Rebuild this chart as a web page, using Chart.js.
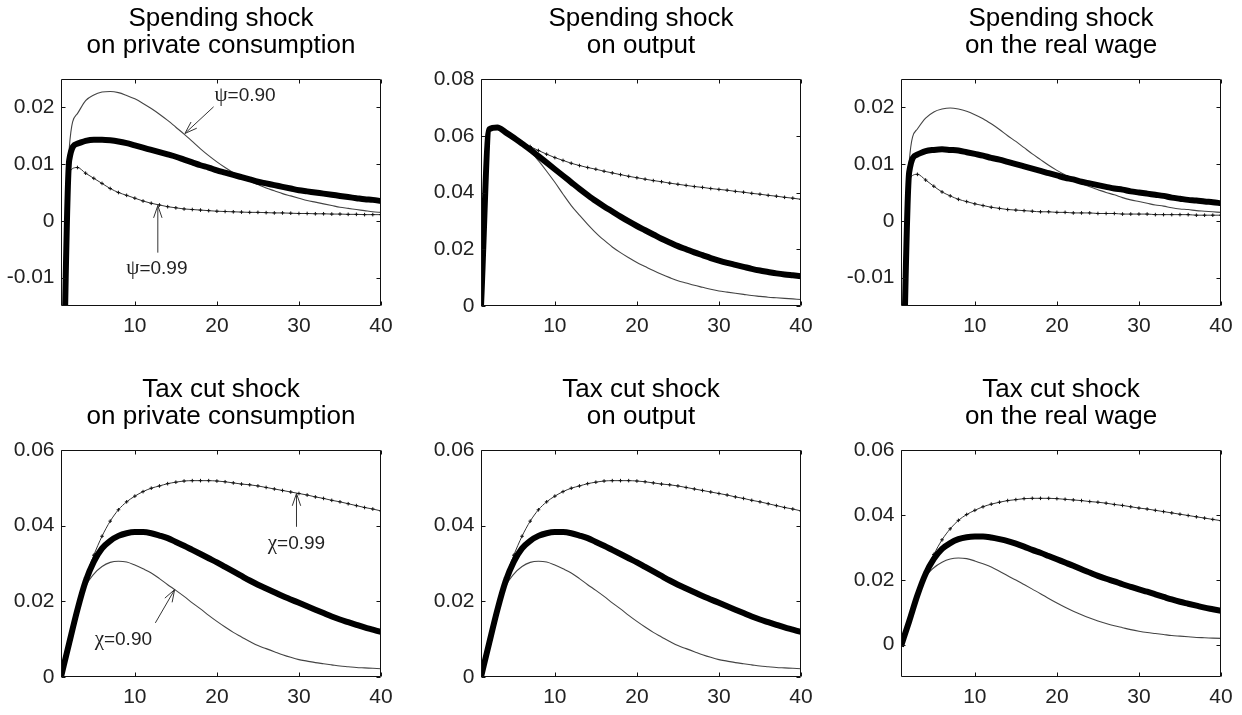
<!DOCTYPE html>
<html>
<head>
<meta charset="utf-8">
<script src="https://cdn.jsdelivr.net/npm/chart.js@4.4.1/dist/chart.umd.min.js"></script>
<style>
html,body{margin:0;padding:0;background:#fff;width:1242px;height:715px;overflow:hidden;position:relative}
canvas{position:absolute;display:block}
</style>
</head>
<body>
<canvas id="c0" width="396" height="340" style="left:0px;top:0px"></canvas>
<canvas id="c1" width="396" height="340" style="left:420px;top:0px"></canvas>
<canvas id="c2" width="396" height="340" style="left:840px;top:0px"></canvas>
<canvas id="c3" width="396" height="340" style="left:0px;top:371px"></canvas>
<canvas id="c4" width="396" height="340" style="left:420px;top:371px"></canvas>
<canvas id="c5" width="396" height="340" style="left:840px;top:371px"></canvas>
<script>
// ---------- DATA ----------
const periods = [1,2,3,4,5,6,7,8,9,10,11,12,13,14,15,16,17,18,19,20,21,22,23,24,25,26,27,28,29,30,31,32,33,34,35,36,37,38,39,40];
const xTickValues = [10,20,30,40];

// Spending shock on private consumption
const spendConsBase = [-0.055,0.0107,0.0136,0.0141,0.0143,0.0143,0.0142,0.0140,0.0137,0.0133,0.0129,0.0125,0.0121,0.0117,0.0113,0.0108,0.0103,0.0098,0.0094,0.0089,0.0085,0.0081,0.0077,0.0073,0.0069,0.0066,0.0063,0.0060,0.0057,0.0054,0.0052,0.0050,0.0048,0.0046,0.0044,0.0042,0.0040,0.0038,0.0037,0.0035];
const spendCons090 = [-0.055,0.0127,0.0189,0.0212,0.0222,0.0227,0.0228,0.0226,0.0221,0.0215,0.0207,0.0198,0.0188,0.0177,0.0165,0.0153,0.0140,0.0127,0.0115,0.0104,0.0094,0.0085,0.0077,0.0070,0.0064,0.0058,0.0053,0.0048,0.0044,0.0040,0.0036,0.0033,0.0030,0.0027,0.0024,0.0022,0.0020,0.0018,0.0016,0.0015];
const spendCons099 = [-0.055,0.0085,0.0094,0.0084,0.0075,0.0066,0.0057,0.0050,0.0045,0.0040,0.0035,0.0031,0.0028,0.0025,0.0023,0.0021,0.0020,0.0019,0.0018,0.0017,0.00165,0.0016,0.00155,0.0015,0.0015,0.00145,0.0014,0.0014,0.00135,0.0013,0.0013,0.00125,0.00125,0.0012,0.0012,0.00115,0.00115,0.0011,0.0011,0.0011];

// Spending shock on output
const spendOutBase = [0,0.0623,0.0629,0.0612,0.0593,0.0572,0.0551,0.0528,0.0505,0.0482,0.0459,0.0436,0.0413,0.0391,0.0370,0.0351,0.0333,0.0315,0.0298,0.0282,0.0267,0.0252,0.0237,0.0224,0.0211,0.0200,0.0189,0.0179,0.0169,0.0160,0.0152,0.0145,0.0138,0.0131,0.0125,0.0120,0.0115,0.0111,0.0108,0.0105];
const spendOut090 = [0,0.0623,0.0629,0.0611,0.0590,0.0569,0.0546,0.0512,0.0475,0.0436,0.0394,0.0354,0.0320,0.0288,0.0258,0.0232,0.0208,0.0188,0.0170,0.0153,0.0139,0.0125,0.0112,0.0100,0.0089,0.0081,0.0073,0.0066,0.0059,0.0053,0.0049,0.0045,0.0041,0.0037,0.0034,0.0031,0.0029,0.0027,0.0025,0.0023];
const spendOut099 = [0,0.0623,0.0629,0.0612,0.0593,0.0577,0.0562,0.0548,0.0535,0.0523,0.0513,0.0503,0.0495,0.0488,0.0482,0.0475,0.0469,0.0463,0.0457,0.0452,0.0447,0.0442,0.0438,0.0433,0.0429,0.0425,0.0421,0.0418,0.0414,0.0411,0.0408,0.0404,0.0401,0.0397,0.0394,0.0390,0.0387,0.0383,0.0380,0.0376];

// Spending shock on the real wage
const spendWageBase = [-0.048,0.0086,0.0117,0.0123,0.0125,0.0126,0.0125,0.0124,0.0121,0.0118,0.0115,0.0111,0.0108,0.0104,0.0100,0.0096,0.0092,0.0088,0.0084,0.0080,0.0076,0.0073,0.0069,0.0066,0.0063,0.0060,0.0057,0.0055,0.0052,0.0050,0.0048,0.0046,0.0044,0.0041,0.0039,0.0037,0.0036,0.0034,0.0033,0.0031];
const spendWage090 = [-0.048,0.0104,0.0162,0.0181,0.0192,0.0197,0.0199,0.0197,0.0193,0.0187,0.0180,0.0171,0.0161,0.0150,0.0140,0.0129,0.0118,0.0108,0.0098,0.0089,0.0081,0.0073,0.0066,0.0060,0.0055,0.0050,0.0046,0.0041,0.0037,0.0034,0.0031,0.0028,0.0026,0.0023,0.0021,0.0020,0.0018,0.0017,0.0016,0.0015];
const spendWage099 = [-0.048,0.0072,0.0082,0.0072,0.0061,0.0051,0.0044,0.0038,0.0034,0.0030,0.0027,0.0024,0.0022,0.0020,0.0019,0.0018,0.0017,0.0016,0.0016,0.0015,0.0015,0.0014,0.0014,0.0014,0.0013,0.0013,0.0013,0.0012,0.0012,0.0012,0.0012,0.0011,0.0011,0.0011,0.0011,0.0011,0.0010,0.0010,0.0010,0.0010];

// Tax cut shock on private consumption
const taxConsBase = [0,0.0090,0.0178,0.0253,0.0305,0.0340,0.0360,0.0373,0.0380,0.0383,0.0383,0.0380,0.0374,0.0367,0.0357,0.0347,0.0336,0.0325,0.0314,0.0303,0.0291,0.0279,0.0267,0.0255,0.0244,0.0234,0.0224,0.0214,0.0205,0.0196,0.0187,0.0178,0.0169,0.0160,0.0152,0.0145,0.0138,0.0131,0.0125,0.0119];
const taxCons090 = [0,0.0090,0.0176,0.0240,0.0272,0.0292,0.0303,0.0306,0.0304,0.0296,0.0286,0.0275,0.0260,0.0244,0.0229,0.0213,0.0196,0.0180,0.0163,0.0147,0.0132,0.0118,0.0106,0.0094,0.0083,0.0075,0.0067,0.0059,0.0052,0.0046,0.0042,0.0038,0.0035,0.0032,0.0029,0.0027,0.0025,0.0024,0.0023,0.0022];
const taxCons099 = [0,0.0090,0.0180,0.0262,0.0322,0.0372,0.0412,0.0442,0.0463,0.0478,0.0490,0.0499,0.0505,0.0511,0.0515,0.0518,0.0519,0.0519,0.0519,0.0518,0.0516,0.0513,0.0510,0.0508,0.0505,0.0501,0.0497,0.0493,0.0489,0.0485,0.0481,0.0476,0.0472,0.0467,0.0463,0.0458,0.0453,0.0448,0.0444,0.0439];

// Tax cut shock on output
const taxOutBase = [0,0.0090,0.0178,0.0253,0.0305,0.0340,0.0360,0.0373,0.0380,0.0383,0.0383,0.0380,0.0374,0.0367,0.0357,0.0347,0.0336,0.0325,0.0314,0.0303,0.0291,0.0279,0.0267,0.0255,0.0244,0.0234,0.0224,0.0214,0.0205,0.0196,0.0187,0.0178,0.0169,0.0160,0.0152,0.0145,0.0138,0.0131,0.0125,0.0119];
const taxOut090 = [0,0.0090,0.0176,0.0240,0.0272,0.0292,0.0303,0.0306,0.0304,0.0296,0.0286,0.0275,0.0260,0.0244,0.0229,0.0213,0.0196,0.0180,0.0163,0.0147,0.0132,0.0118,0.0106,0.0094,0.0083,0.0075,0.0067,0.0059,0.0052,0.0046,0.0042,0.0038,0.0035,0.0032,0.0029,0.0027,0.0025,0.0024,0.0023,0.0022];
const taxOut099 = [0,0.0090,0.0180,0.0262,0.0322,0.0372,0.0412,0.0442,0.0463,0.0478,0.0490,0.0499,0.0505,0.0511,0.0515,0.0518,0.0519,0.0519,0.0519,0.0518,0.0516,0.0513,0.0510,0.0508,0.0505,0.0501,0.0497,0.0493,0.0489,0.0485,0.0481,0.0476,0.0472,0.0467,0.0463,0.0458,0.0453,0.0448,0.0444,0.0439];

// Tax cut shock on the real wage
const taxWageBase = [-0.0005,0.0072,0.0152,0.0218,0.0264,0.0295,0.0313,0.0325,0.0331,0.0333,0.0333,0.0330,0.0325,0.0319,0.0311,0.0302,0.0292,0.0283,0.0273,0.0263,0.0253,0.0243,0.0232,0.0222,0.0212,0.0203,0.0195,0.0186,0.0178,0.0170,0.0163,0.0155,0.0147,0.0139,0.0132,0.0126,0.0120,0.0114,0.0109,0.0104];
const taxWage090 = [-0.0005,0.0072,0.0150,0.0209,0.0237,0.0254,0.0264,0.0267,0.0265,0.0258,0.0249,0.0239,0.0226,0.0212,0.0199,0.0185,0.0171,0.0157,0.0142,0.0128,0.0115,0.0103,0.0092,0.0082,0.0073,0.0065,0.0058,0.0052,0.0046,0.0041,0.0037,0.0034,0.0031,0.0028,0.0026,0.0024,0.0022,0.0021,0.0020,0.0019];
const taxWage099 = [-0.0005,0.0072,0.0155,0.0226,0.0278,0.0323,0.0357,0.0383,0.0401,0.0414,0.0425,0.0433,0.0439,0.0444,0.0447,0.0450,0.0451,0.0451,0.0451,0.0450,0.0448,0.0446,0.0444,0.0441,0.0439,0.0436,0.0432,0.0429,0.0425,0.0421,0.0418,0.0414,0.0410,0.0406,0.0402,0.0398,0.0394,0.0390,0.0386,0.0382];

// Y tick values
const yTicksSpendSmall = [-0.01,0,0.01,0.02];
const yTicksSpendOut = [0,0.02,0.04,0.06,0.08];
const yTicksTax = [0,0.02,0.04,0.06];

// ---------- RENDER ----------
const SANS = '"Liberation Sans", Arial, Helvetica, sans-serif';
const SERIF = '"Liberation Serif", "Times New Roman", serif';

function framePlugin() {
  return {
    id: 'frame',
    afterDatasetsDraw(chart) {
      const {ctx, chartArea: a, scales: {x, y}} = chart;
      const L = Math.round(a.left) + 0.5, R = Math.round(a.right) - 0.5;
      const T = Math.round(a.top) + 0.5, B = Math.round(a.bottom) - 0.5;
      ctx.save();
      ctx.strokeStyle = '#111';
      ctx.lineWidth = 1;
      ctx.beginPath();
      ctx.rect(L, T, R - L, B - T);
      const tl = 4;
      x.ticks.forEach(t => {
        const px = Math.round(x.getPixelForValue(t.value)) + 0.5;
        ctx.moveTo(px, B); ctx.lineTo(px, B - tl);
        ctx.moveTo(px, T); ctx.lineTo(px, T + tl);
      });
      y.ticks.forEach(t => {
        const py = Math.round(y.getPixelForValue(t.value)) + 0.5;
        ctx.moveTo(L, py); ctx.lineTo(L + tl, py);
        ctx.moveTo(R, py); ctx.lineTo(R - tl, py);
      });
      ctx.stroke();
      ctx.restore();
    }
  };
}

function notesPlugin(items) {
  return {
    id: 'notes',
    afterDraw(chart) {
      const {ctx, scales: {x, y}} = chart;
      ctx.save();
      items.forEach(n => {
        const tx = x.getPixelForValue(n.textX), ty = y.getPixelForValue(n.textY);
        ctx.fillStyle = '#222';
        ctx.textBaseline = 'middle';
        ctx.textAlign = 'left';
        ctx.font = '21px ' + SERIF;
        ctx.fillText(n.greek, tx, ty);
        const gw = ctx.measureText(n.greek).width;
        ctx.font = '19px ' + SANS;
        ctx.fillText(n.rest, tx + gw, ty);
        const x1 = x.getPixelForValue(n.fromX), y1 = y.getPixelForValue(n.fromY);
        const x2 = x.getPixelForValue(n.toX), y2 = y.getPixelForValue(n.toY);
        ctx.strokeStyle = '#333';
        ctx.lineWidth = 1;
        ctx.beginPath();
        ctx.moveTo(x1, y1); ctx.lineTo(x2, y2);
        const ang = Math.atan2(y2 - y1, x2 - x1);
        [-1, 1].forEach(s => {
          ctx.moveTo(x2, y2);
          ctx.lineTo(x2 - 13 * Math.cos(ang + s * 0.33), y2 - 13 * Math.sin(ang + s * 0.33));
        });
        ctx.stroke();
      });
      ctx.restore();
    }
  };
}

function makeChart(id, title, base, low, high, yMin, yMax, yTicks, notes) {
  return new Chart(document.getElementById(id), {
    type: 'line',
    data: {
      labels: periods,
      datasets: [
        {data: base, borderColor: '#000', borderWidth: 6, pointRadius: 0, borderJoinStyle: 'round',
         cubicInterpolationMode: 'monotone', clip: 0, order: 0},
        {data: high, borderColor: '#333', borderWidth: 1, pointRadius: 1.8, pointStyle: 'cross',
         pointBorderColor: '#111', pointBorderWidth: 1, cubicInterpolationMode: 'monotone', clip: 0, order: 1},
        {data: low, borderColor: '#444', borderWidth: 1.1, pointRadius: 0,
         cubicInterpolationMode: 'monotone', clip: 0, order: 2}
      ]
    },
    options: {
      responsive: false,
      animation: false,
      events: [],
      layout: {padding: {top: 0, left: 0, right: 15, bottom: 0}},
      plugins: {
        legend: {display: false},
        tooltip: {enabled: false},
        title: {
          display: true, text: title, fullSize: false, color: '#000',
          font: {family: SANS, size: 26, weight: 'normal', lineHeight: 1.05},
          padding: {top: 5.2, bottom: 19.2}
        }
      },
      scales: {
        x: {
          type: 'linear', min: 1, max: 40,
          grid: {display: false, drawTicks: false},
          border: {display: false},
          afterBuildTicks: s => { s.ticks = xTickValues.map(v => ({value: v})); },
          ticks: {color: '#222', padding: 8, font: {family: SANS, size: 21}, maxRotation: 0, autoSkip: false,
                  callback: v => String(v)},
          afterFit: s => { s.height = 34; s.paddingLeft = 0; s.paddingRight = 0; }
        },
        y: {
          type: 'linear', min: yMin, max: yMax,
          grid: {display: false, drawTicks: false},
          border: {display: false},
          afterBuildTicks: s => { s.ticks = yTicks.map(v => ({value: v})); },
          ticks: {color: '#222', padding: 6.5, font: {family: SANS, size: 21}, autoSkip: false,
                  callback: v => String(v)},
          afterFit: s => { s.width = 61; s.paddingTop = 0; s.paddingBottom = 0; }
        }
      }
    },
    plugins: [framePlugin(), notesPlugin(notes)]
  });
}

makeChart('c0', ['Spending shock', 'on private consumption'], spendConsBase, spendCons090, spendCons099,
  -0.015, 0.025, yTicksSpendSmall, [
    {greek: 'ψ', rest: '=0.90', textX: 19.7, textY: 0.0221, fromX: 19.6, fromY: 0.0201, toX: 16.1, toY: 0.0154},
    {greek: 'ψ', rest: '=0.99', textX: 8.95, textY: -0.0084, fromX: 12.8, fromY: -0.0056, toX: 12.8, toY: 0.0027}
  ]);
makeChart('c1', ['Spending shock', 'on output'], spendOutBase, spendOut090, spendOut099,
  0, 0.08, yTicksSpendOut, []);
makeChart('c2', ['Spending shock', 'on the real wage'], spendWageBase, spendWage090, spendWage099,
  -0.015, 0.025, yTicksSpendSmall, []);
makeChart('c3', ['Tax cut shock', 'on private consumption'], taxConsBase, taxCons090, taxCons099,
  0, 0.06, yTicksTax, [
    {greek: 'χ', rest: '=0.99', textX: 26.2, textY: 0.0353, fromX: 29.7, fromY: 0.0397, toX: 29.7, toY: 0.0485},
    {greek: 'χ', rest: '=0.90', textX: 5.1, textY: 0.0099, fromX: 12.5, fromY: 0.0143, toX: 14.85, toY: 0.0231}
  ]);
makeChart('c4', ['Tax cut shock', 'on output'], taxOutBase, taxOut090, taxOut099,
  0, 0.06, yTicksTax, []);
makeChart('c5', ['Tax cut shock', 'on the real wage'], taxWageBase, taxWage090, taxWage099,
  -0.01, 0.06, yTicksTax, []);
</script>
</body>
</html>
